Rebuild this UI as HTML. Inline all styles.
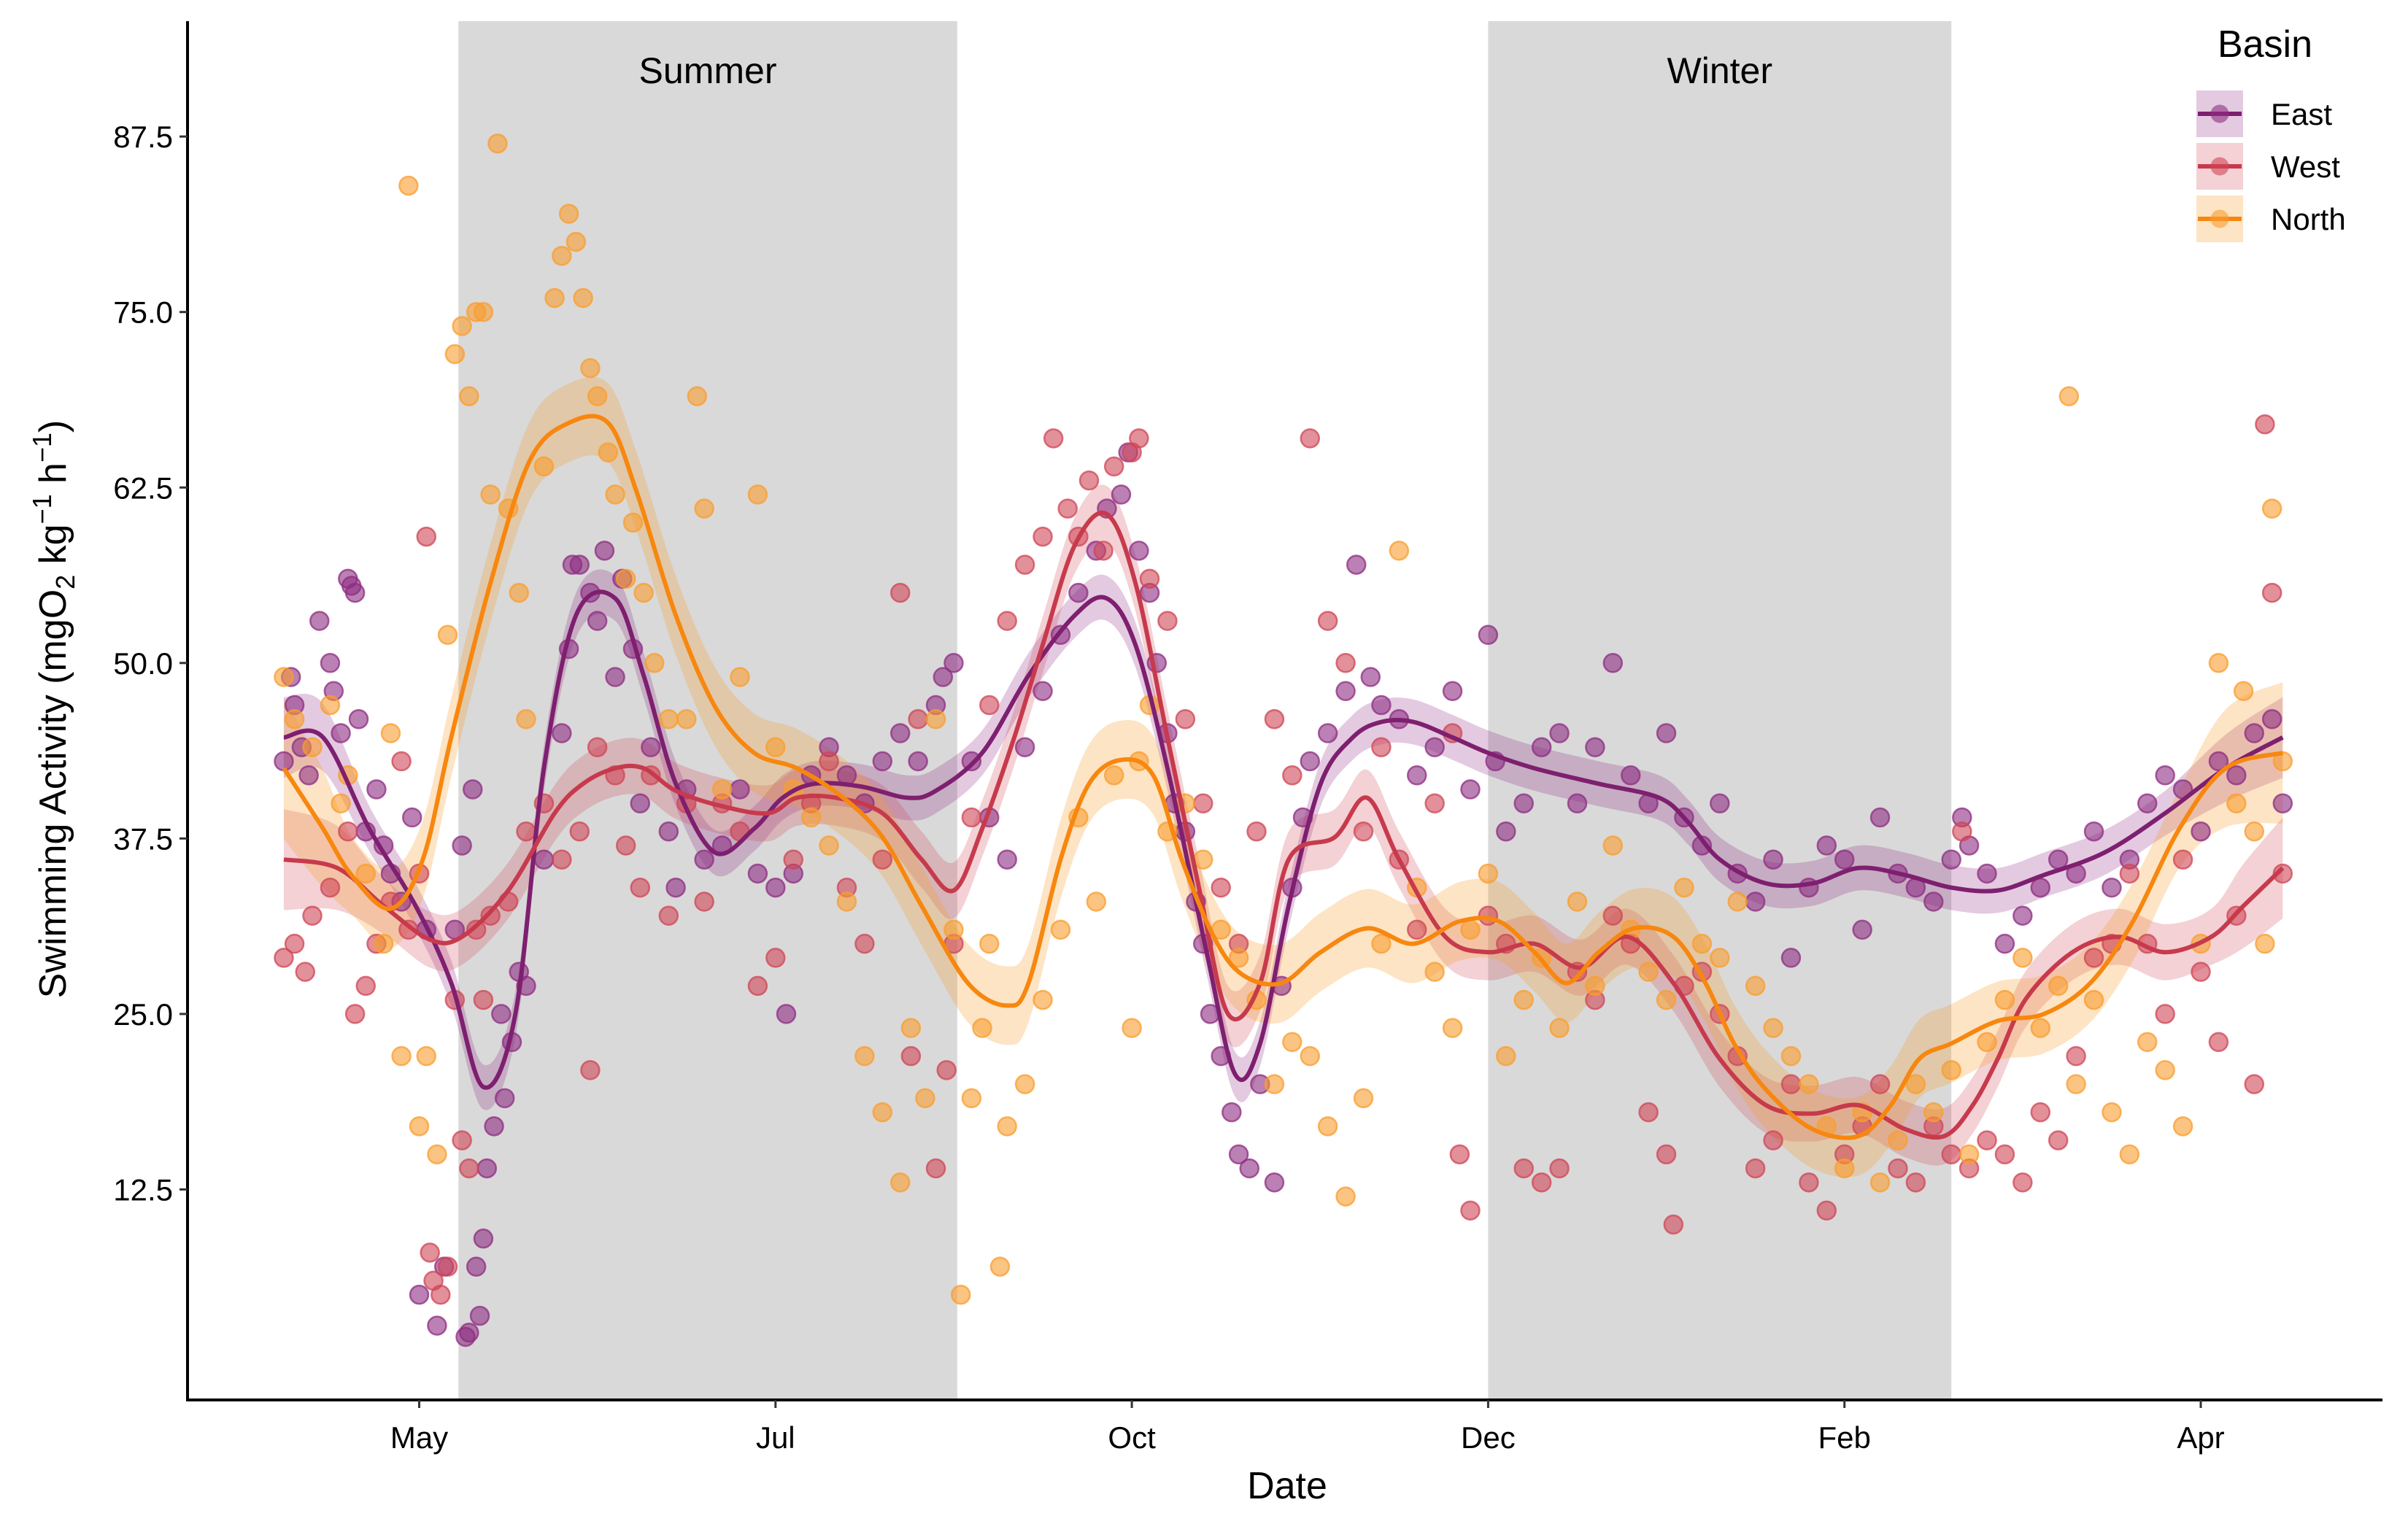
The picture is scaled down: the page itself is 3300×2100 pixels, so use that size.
<!DOCTYPE html>
<html><head><meta charset="utf-8"><style>
html,body{margin:0;padding:0;background:#fff}
svg{display:block;font-family:"Liberation Sans",Arial,sans-serif}
</style></head><body>
<svg id="chart" width="3300" height="2100" viewBox="0 0 3300 2100" xmlns="http://www.w3.org/2000/svg">
<rect width="3300" height="2100" fill="#fff"/>
<g id="shading"></g>
<g id="bands"></g>
<g id="pts"></g>
<g id="lines"></g>
<g id="axes"></g>
<g id="legend"></g>
</svg>
<script>
// ---- data ----
const xTickLabels = ["May","Jul","Oct","Dec","Feb","Apr"];
const xTickValues = [0,1,2,3,4,5];
const yTickValues = [12.5,25,37.5,50,62.5,75,87.5];
const yTickLabels = ["12.5","25.0","37.5","50.0","62.5","75.0","87.5"];
const seasonNames = ["Summer","Winter"];
const seasonStart = [0.11,3.0];
const seasonEnd = [1.51,4.3];
const seriesNames = ["East","West","North"];

const eastLineX = [-0.38,-0.27,-0.14,-0.01,0.09,0.18,0.27,0.35,0.44,0.55,0.63,0.72,0.83,0.94,1.02,1.11,1.24,1.37,1.45,1.58,1.71,1.84,1.93,2.01,2.1,2.21,2.29,2.36,2.44,2.53,2.62,2.7,2.79,2.9,3.0,3.13,3.31,3.48,3.56,3.65,3.78,3.91,4.04,4.17,4.3,4.43,4.56,4.73,4.9,5.07,5.23];
const eastLineY = [44.7,44.7,38.2,32.7,27.2,19.8,25.0,42.5,53.4,54.6,49.1,41.4,36.5,38.2,40.4,41.4,41.2,40.4,40.9,43.6,49.1,53.4,54.6,51.3,42.5,29.4,20.7,22.9,32.7,41.4,44.7,45.8,45.8,44.7,43.6,42.5,41.4,40.4,38.7,36.0,34.3,34.3,35.4,34.9,34.0,33.8,34.9,36.5,39.3,42.5,44.7];
const westLineX = [-0.38,-0.23,-0.1,0.03,0.12,0.25,0.38,0.46,0.55,0.63,0.72,0.85,0.98,1.06,1.17,1.3,1.41,1.5,1.58,1.67,1.75,1.84,1.93,2.01,2.1,2.19,2.27,2.36,2.44,2.57,2.66,2.75,2.88,3.0,3.13,3.26,3.39,3.52,3.65,3.78,3.91,4.04,4.17,4.28,4.36,4.43,4.51,4.64,4.77,4.9,5.03,5.12,5.23];
const westLineY = [36.0,35.4,32.7,30.3,30.5,33.8,39.3,41.4,42.5,42.5,40.9,39.8,39.3,40.4,40.4,39.3,36.0,33.8,38.2,44.7,51.3,58.4,60.6,55.7,44.7,33.8,25.0,27.2,36.0,37.6,40.4,36.0,30.5,29.4,30.0,28.3,30.5,27.2,21.8,18.5,17.9,18.5,16.8,16.3,18.5,21.8,26.1,29.4,30.5,29.4,30.5,32.7,35.4];
const northLineX = [-0.38,-0.27,-0.19,-0.08,0.01,0.09,0.2,0.31,0.42,0.53,0.61,0.72,0.83,0.94,1.06,1.19,1.3,1.41,1.54,1.65,1.71,1.8,1.88,1.97,2.06,2.14,2.23,2.31,2.42,2.53,2.66,2.79,2.92,3.03,3.13,3.22,3.31,3.41,3.52,3.61,3.69,3.78,3.91,4.04,4.13,4.21,4.3,4.43,4.56,4.69,4.81,4.94,5.07,5.23];
const northLineY = [42.5,38.2,34.9,32.5,36.0,44.7,55.7,64.4,67.1,67.1,62.2,53.4,46.9,43.6,42.5,40.4,37.6,32.7,27.2,25.6,27.2,36.0,41.4,43.1,42.0,36.0,30.5,27.8,27.2,29.4,31.1,30.0,31.6,31.6,29.4,27.2,29.4,31.1,30.5,27.2,22.9,19.6,16.8,16.3,18.5,21.8,22.9,24.5,25.0,27.2,31.6,38.2,42.5,43.6];
const seriesSE = [1.6,2.0,2.8];

const eastPtsX = [-0.38,-0.36,-0.35,-0.33,-0.31,-0.28,-0.25,-0.24,-0.22,-0.2,-0.19,-0.18,-0.17,-0.15,-0.12,-0.1,-0.08,-0.05,-0.02,0.0,0.02,0.05,0.07,0.1,0.12,0.13,0.14,0.15,0.16,0.17,0.18,0.19,0.21,0.23,0.24,0.26,0.28,0.3,0.35,0.4,0.42,0.43,0.45,0.48,0.5,0.52,0.55,0.57,0.6,0.62,0.65,0.7,0.72,0.75,0.8,0.85,0.9,0.95,1.0,1.03,1.05,1.1,1.15,1.2,1.25,1.3,1.35,1.4,1.45,1.47,1.5,1.55,1.6,1.65,1.7,1.75,1.8,1.85,1.9,1.93,1.97,1.99,2.02,2.05,2.07,2.1,2.12,2.15,2.18,2.2,2.22,2.25,2.28,2.3,2.33,2.36,2.4,2.42,2.45,2.48,2.5,2.55,2.6,2.63,2.67,2.7,2.75,2.8,2.85,2.9,2.95,3.0,3.02,3.05,3.1,3.15,3.2,3.25,3.3,3.35,3.4,3.45,3.5,3.55,3.6,3.65,3.7,3.75,3.8,3.85,3.9,3.95,4.0,4.05,4.1,4.15,4.2,4.25,4.3,4.33,4.35,4.4,4.45,4.5,4.55,4.6,4.65,4.7,4.75,4.8,4.85,4.9,4.95,5.0,5.05,5.1,5.15,5.2,5.23];
const eastPtsY = [43,49,47,44,42,53,50,48,45,56,55.5,55,46,38,41,37,35,33,39,5,31,2.8,7,31,37,2,2.3,41,7,3.5,9,14,17,25,19,23,28,27,36,45,51,57,57,55,53,58,49,56,51,40,44,38,34,41,36,37,41,35,34,25,35,42,44,42,40,43,45,43,47,49,50,43,39,36,44,48,52,55,58,61,62,65,58,55,50,45,40,38,33,30,25,22,18,15,14,20,13,27,34,39,43,45,48,57,49,47,46,42,44,48,41,52,43,38,40,44,45,40,44,50,42,40,45,39,37,40,35,33,36,29,34,37,36,31,39,35,34,33,36,39,37,35,30,32,34,36,35,38,34,36,40,42,41,38,43,42,45,46,40];
const westPtsX = [-0.38,-0.35,-0.32,-0.3,-0.25,-0.2,-0.18,-0.15,-0.12,-0.08,-0.05,-0.03,0.0,0.02,0.03,0.04,0.06,0.08,0.1,0.12,0.14,0.16,0.18,0.2,0.25,0.3,0.35,0.4,0.45,0.48,0.5,0.55,0.58,0.62,0.65,0.7,0.75,0.8,0.85,0.9,0.95,1.0,1.05,1.1,1.15,1.2,1.25,1.3,1.35,1.38,1.4,1.45,1.48,1.5,1.55,1.6,1.65,1.7,1.75,1.78,1.82,1.85,1.88,1.92,1.95,2.0,2.02,2.05,2.1,2.15,2.2,2.25,2.3,2.35,2.4,2.45,2.5,2.55,2.6,2.65,2.7,2.75,2.8,2.85,2.9,2.92,2.95,3.0,3.05,3.1,3.15,3.2,3.25,3.3,3.35,3.4,3.45,3.5,3.52,3.55,3.6,3.65,3.7,3.75,3.8,3.85,3.9,3.95,4.0,4.05,4.1,4.15,4.2,4.25,4.3,4.33,4.35,4.4,4.45,4.5,4.55,4.6,4.65,4.7,4.75,4.8,4.85,4.9,4.95,5.0,5.05,5.1,5.15,5.18,5.2,5.23];
const westPtsY = [29,30,28,32,34,38,25,27,30,33,43,31,35,59,8,6,5,7,26,16,14,31,26,32,33,38,40,36,38,21,44,42,37,34,42,32,40,33,40,38,27,29,36,40,43,34,30,36,55,22,46,14,21,30,39,47,53,57,59,66,61,59,63,58,64,65,66,56,53,46,40,34,30,38,46,42,66,53,50,38,44,36,31,40,45,15,11,32,30,14,13,14,28,26,32,30,18,15,10,27,28,25,22,14,16,20,13,11,15,17,20,14,13,17,15,38,14,16,15,13,18,16,22,29,30,35,30,25,36,28,23,32,20,67,55,35];
const northPtsX = [-0.38,-0.35,-0.3,-0.25,-0.22,-0.2,-0.15,-0.1,-0.08,-0.05,-0.03,0.0,0.02,0.05,0.08,0.1,0.12,0.14,0.16,0.18,0.2,0.22,0.25,0.28,0.3,0.35,0.38,0.4,0.42,0.44,0.46,0.48,0.5,0.53,0.55,0.58,0.6,0.63,0.66,0.7,0.75,0.78,0.8,0.85,0.9,0.95,1.0,1.05,1.1,1.15,1.2,1.25,1.3,1.35,1.38,1.42,1.45,1.5,1.52,1.55,1.58,1.6,1.63,1.65,1.7,1.75,1.8,1.85,1.9,1.95,2.0,2.02,2.05,2.1,2.15,2.2,2.25,2.3,2.35,2.4,2.45,2.5,2.55,2.6,2.65,2.7,2.75,2.8,2.85,2.9,2.95,3.0,3.05,3.1,3.15,3.2,3.25,3.3,3.35,3.4,3.45,3.5,3.55,3.6,3.65,3.7,3.75,3.8,3.85,3.9,3.95,4.0,4.05,4.1,4.15,4.2,4.25,4.3,4.35,4.4,4.45,4.5,4.55,4.6,4.63,4.65,4.7,4.75,4.8,4.85,4.9,4.95,5.0,5.05,5.1,5.12,5.15,5.18,5.2,5.23];
const northPtsY = [49,46,44,47,40,42,35,30,45,22,84,17,22,15,52,72,74,69,75,75,62,87,61,55,46,64,76,79,82,80,76,71,69,65,62,56,60,55,50,46,46,69,61,41,49,62,44,41,39,37,33,22,18,13,24,19,46,31,5,19,24,30,7,17,20,26,31,39,33,42,24,43,47,38,40,36,31,29,26,20,23,22,17,12,19,30,58,34,28,24,31,35,22,26,29,24,33,27,37,31,28,26,34,30,29,33,27,24,22,20,17,14,18,13,16,20,18,21,15,23,26,29,24,27,69,20,26,18,15,23,21,17,30,50,40,48,38,30,61,43];

// ---- scales ----
const X = t => 574.5 + t*488.3;
const Y = v => 1871 - v*19.244;
const NS = "http://www.w3.org/2000/svg";
function mk(tag, parent, attrs){const e=document.createElementNS(NS,tag);for(const k in attrs)e.setAttribute(k,attrs[k]);parent.appendChild(e);return e;}
const TOP=29, BOT=1919, LEFT=257, RIGHT=3265;
const lineCol=["#7E1F6F","#C73A4C","#F7870F"];
const ptCol=["#8E2D82","#CF4656","#F99D2E"];
const bandCol=["rgba(142,45,130,0.25)","rgba(207,70,86,0.25)","rgba(249,157,46,0.28)"];

// shading
const gS=document.getElementById('shading');
seasonNames.forEach((n,i)=>{
  const r=mk('rect',gS,{x:X(seasonStart[i]),y:TOP,width:X(seasonEnd[i])-X(seasonStart[i]),height:BOT-TOP,fill:'#d9d9d9'});
  
  
  const t=mk('text',gS,{x:(X(seasonStart[i])+X(seasonEnd[i]))/2,y:114,'text-anchor':'middle','font-size':50,fill:'#000'});
  t.textContent=n;
  
  
});

const lx=[eastLineX,westLineX,northLineX], ly=[eastLineY,westLineY,northLineY];
const px=[eastPtsX,westPtsX,northPtsX], py=[eastPtsY,westPtsY,northPtsY];
const gB=document.getElementById('bands'), gP=document.getElementById('pts'), gL=document.getElementById('lines');
function smoothPath(pts){
  let d='M'+pts[0][0]+','+pts[0][1];
  for(let i=0;i<pts.length-1;i++){
    const p0=pts[Math.max(0,i-1)],p1=pts[i],p2=pts[i+1],p3=pts[Math.min(pts.length-1,i+2)];
    const c1=[p1[0]+(p2[0]-p0[0])/6,p1[1]+(p2[1]-p0[1])/6];
    const c2=[p2[0]-(p3[0]-p1[0])/6,p2[1]-(p3[1]-p1[1])/6];
    d+=' C'+c1[0].toFixed(1)+','+c1[1].toFixed(1)+' '+c2[0].toFixed(1)+','+c2[1].toFixed(1)+' '+p2[0].toFixed(1)+','+p2[1].toFixed(1);
  }
  return d;
}
for(let s=0;s<3;s++){
  const n=lx[s].length;
  const w=i=>{const edge=Math.min(i,n-1-i);return seriesSE[s]*(edge<2?1.8-0.3*edge:1);};
  const up=lx[s].map((x,i)=>[X(x),Y(ly[s][i]+w(i))]);
  const dn=lx[s].map((x,i)=>[X(x),Y(ly[s][i]-w(i))]).reverse();
  const d=smoothPath(up)+' L'+smoothPath(dn).slice(1)+' Z';
  const b=mk('path',gB,{d:d,fill:bandCol[s]});
  
  
}
for(let s=0;s<3;s++){
  px[s].forEach((x,i)=>{
    const c=mk('circle',gP,{cx:X(x),cy:Y(py[s][i]),r:12.5,fill:ptCol[s],'fill-opacity':0.6,stroke:ptCol[s],'stroke-opacity':0.75,'stroke-width':2.5});
    
    
  });
}
for(let s=0;s<3;s++){
  const l=mk('path',gL,{d:smoothPath(lx[s].map((x,i)=>[X(x),Y(ly[s][i])])),fill:'none',stroke:lineCol[s],'stroke-width':6,'stroke-linejoin':'round'});
  
  
}

// axes
const gA=document.getElementById('axes');
const ya=mk('line',gA,{x1:LEFT,y1:TOP,x2:LEFT,y2:BOT+2,stroke:'#000','stroke-width':4});


const xa=mk('line',gA,{x1:LEFT-2,y1:BOT,x2:RIGHT,y2:BOT,stroke:'#000','stroke-width':4});


yTickValues.forEach((v,i)=>{
  mk('line',gA,{x1:LEFT-11,y1:Y(v),x2:LEFT,y2:Y(v),stroke:'#333','stroke-width':3});
  const t=mk('text',gA,{x:LEFT-20,y:Y(v)+15,'text-anchor':'end','font-size':42,fill:'#000'});
  t.textContent=yTickLabels[i];
  
  
});
xTickValues.forEach((v,i)=>{
  mk('line',gA,{x1:X(v),y1:BOT,x2:X(v),y2:BOT+11,stroke:'#333','stroke-width':3});
  const t=mk('text',gA,{x:X(v),y:BOT+66,'text-anchor':'middle','font-size':42,fill:'#000'});
  t.textContent=xTickLabels[i];
  
  
});
const xt=mk('text',gA,{x:1764,y:2054,'text-anchor':'middle','font-size':52,fill:'#000'});
xt.textContent='Date';


const yt=mk('text',gA,{transform:'translate(90,972) rotate(-90)','text-anchor':'middle','font-size':52,fill:'#000'});
yt.innerHTML='Swimming Activity (mgO<tspan font-size="36" dy="12">2</tspan><tspan dy="-12"> kg</tspan><tspan font-size="36" dy="-20">−1</tspan><tspan dy="20"> h</tspan><tspan font-size="36" dy="-20">−1</tspan><tspan dy="20">)</tspan>';



// legend
const gG=document.getElementById('legend');
const lt=mk('text',gG,{x:3104,y:78,'text-anchor':'middle','font-size':52,fill:'#000'});
lt.textContent='Basin';


seriesNames.forEach((n,s)=>{
  const cy=156+s*72;
  const g=mk('g',gG,{});
  
  
  mk('rect',g,{x:3010,y:cy-32,width:64,height:64,fill:bandCol[s]});
  mk('line',g,{x1:3012,y1:cy,x2:3072,y2:cy,stroke:lineCol[s],'stroke-width':6});
  mk('circle',g,{cx:3042,cy:cy,r:12.5,fill:ptCol[s],'fill-opacity':0.6});
  const t=mk('text',g,{x:3112,y:cy+15,'font-size':42,fill:'#000'});
  t.textContent=n;
});
</script>
</body></html>
